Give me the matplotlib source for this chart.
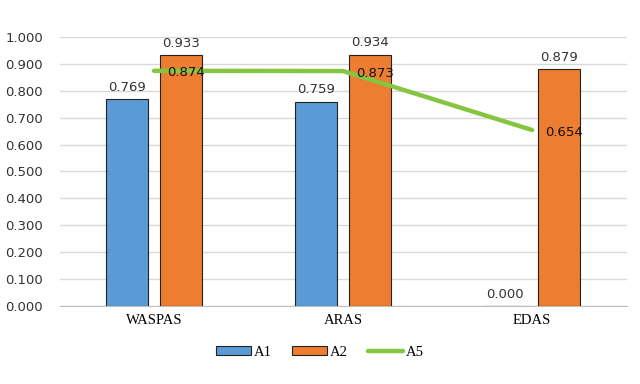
import matplotlib.pyplot as plt
import numpy as np

methods = ["WASPAS", "ARAS", "EDAS"]
a1 = [0.769, 0.759, 0.000]
a2 = [0.933, 0.934, 0.879]
a5 = [0.874, 0.873, 0.654]

plt.rcParams["font.family"] = ["Liberation Serif", "DejaVu Serif"]
num_font = ["DejaVu Sans"]

fig = plt.figure(figsize=(6.4, 3.84), dpi=100)
ax = fig.add_axes([0.093, 0.203, 0.886, 0.701])

x = np.arange(len(methods))
w = 0.222
off = 0.143
blue, orange, green = "#5B9BD5", "#ED7D31", "#86C541"

b1 = ax.bar(x - off, a1, w, color=blue, edgecolor="#222222", linewidth=0.8, label="A1", zorder=3)
b2 = ax.bar(x + off, a2, w, color=orange, edgecolor="#222222", linewidth=0.8, label="A2", zorder=3)
ln, = ax.plot(x, a5, color=green, linewidth=3.2, solid_capstyle="round", label="A5", zorder=4)

for xi, v in zip(x - off, a1):
    ax.text(xi, v + 0.02, f"{v:.3f}", ha="center", va="bottom", fontsize=9.5,
            family=num_font, color="#333333", zorder=5)
for xi, v in zip(x + off, a2):
    ax.text(xi, v + 0.02, f"{v:.3f}", ha="center", va="bottom", fontsize=9.5,
            family=num_font, color="#333333", zorder=5)
for xi, v in zip(x, a5):
    ax.text(xi + 0.07, v - 0.008, f"{v:.3f}", ha="left", va="center", fontsize=9.5,
            family=num_font, color="#111111", zorder=5)

ax.set_xlim(-0.5, len(methods) - 0.5)
ax.set_ylim(0, 1.0)
ticks = np.arange(0, 1.01, 0.1)
ax.set_yticks(ticks)
ax.set_yticklabels([f"{t:.3f}" for t in ticks], fontsize=9.5, family=num_font, color="#333333")
ax.set_xticks(x)
ax.set_xticklabels(methods, fontsize=10.5)
ax.tick_params(length=0, pad=6)
ax.tick_params(axis="y", pad=12)
ax.yaxis.grid(True, color="#D9D9D9", linewidth=1.0, zorder=0)
ax.set_axisbelow(True)
for s in ["top", "right", "left"]:
    ax.spines[s].set_visible(False)
ax.spines["bottom"].set_color("#BFBFBF")

fig.legend(handles=[b1, b2, ln], loc="center", bbox_to_anchor=(0.5, 0.083), ncol=3,
           frameon=False, fontsize=10.5, handlelength=2.4, handleheight=0.6,
           columnspacing=1.4, handletextpad=0.2)

fig.savefig("out.png", dpi=100)
